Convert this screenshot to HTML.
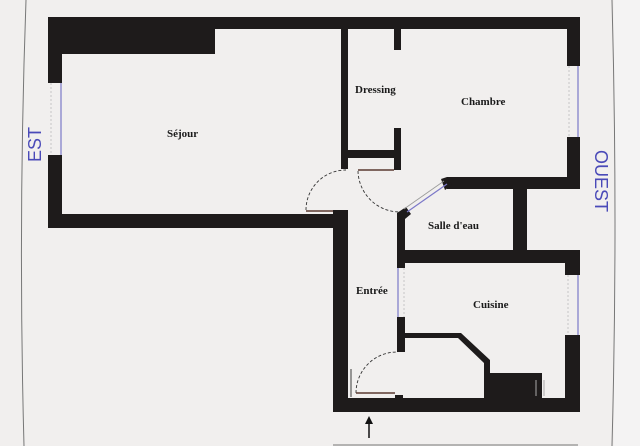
<!DOCTYPE html>
<html><head><meta charset="utf-8"><style>
html,body{margin:0;padding:0;background:#f1efee;}
svg{display:block}
text{font-family:"Liberation Serif",serif;font-weight:bold;font-size:11px;fill:#1a1a1a}
.h{font-family:"Liberation Sans",sans-serif;font-weight:normal;fill:#4a4ab8;font-size:18px}
</style></head><body>
<svg width="640" height="446" viewBox="0 0 640 446" xmlns="http://www.w3.org/2000/svg">
<rect width="640" height="446" fill="#f1efee"/>
<rect x="614" y="0" width="26" height="446" fill="#f4f3f3"/>
<path d="M26 0 Q18 223 24 446" stroke="#777" stroke-width="1" fill="none"/>
<path d="M612 0 Q618 223 612 446" stroke="#777" stroke-width="1" fill="none"/>
<g fill="#1e1b1b">
<rect x="48" y="17" width="532" height="12"/>
<rect x="48" y="17" width="167" height="37"/>
<rect x="48" y="17" width="14" height="66"/>
<rect x="48" y="155" width="14" height="73"/>
<rect x="48" y="214" width="300" height="14"/>
<rect x="341" y="17" width="7" height="152"/>
<rect x="333" y="210" width="15" height="202"/>
<rect x="394" y="17" width="7" height="33"/>
<rect x="394" y="128" width="7" height="42"/>
<rect x="348" y="150" width="53" height="8"/>
<rect x="567" y="17" width="13" height="49"/>
<rect x="567" y="137" width="13" height="52"/>
<rect x="447" y="177" width="133" height="12"/>
<polygon points="441,179 447,177 452,185 445,190"/>
<polygon points="397,213 406,207 411,214 405,219"/>
<rect x="397" y="213" width="8" height="55"/>
<rect x="513" y="177" width="14" height="80"/>
<rect x="397" y="250" width="183" height="13"/>
<rect x="565" y="250" width="15" height="25"/>
<rect x="565" y="335" width="15" height="77"/>
<rect x="397" y="317" width="8" height="35"/>
<rect x="395" y="395" width="8" height="12"/>
<polygon points="397,333 461,333 490,360 490,398 484,398 484,363 458,338 397,338"/>
<rect x="490" y="373" width="52" height="26"/>
<rect x="333" y="398" width="247" height="14"/>
</g>
<g stroke="#7c78c8" stroke-width="1.2" fill="none">
<line x1="61" y1="83" x2="61" y2="155"/>
<line x1="578" y1="66" x2="578" y2="137"/>
<line x1="578" y1="275" x2="578" y2="335"/>
<line x1="398" y1="268" x2="398" y2="317"/>
<line x1="407" y1="212" x2="447" y2="184"/>
</g>
<g stroke="#999" stroke-width="0.8" fill="none">
<line x1="404" y1="209" x2="444" y2="181"/>
</g>
<g stroke="#bbb" stroke-width="0.8" fill="none" stroke-dasharray="2,2">
<line x1="51" y1="83" x2="51" y2="155"/>
<line x1="569" y1="66" x2="569" y2="137"/>
<line x1="568" y1="275" x2="568" y2="335"/>
<line x1="404" y1="268" x2="404" y2="317"/>
</g>
<line x1="544" y1="380" x2="544" y2="396" stroke="#aaa"/>
<line x1="536" y1="380" x2="536" y2="396" stroke="#aaa"/>
<g fill="none" stroke="#333" stroke-width="0.9">
<path d="M306 210 A40 40 0 0 1 346 170" stroke-dasharray="3,2"/>
<line x1="306" y1="211" x2="333" y2="211" stroke="#5a3a30" stroke-width="1.5"/>
<path d="M358 171 A42 42 0 0 0 400 212" stroke-dasharray="3,2"/>
<line x1="358" y1="170" x2="394" y2="170" stroke="#5a3a30" stroke-width="1.5"/>
<path d="M356 393 A41 41 0 0 1 397 352" stroke-dasharray="3,2"/>
<line x1="356" y1="393" x2="395" y2="393" stroke="#5a3a30" stroke-width="1.5"/>
<line x1="351" y1="369" x2="351" y2="397" stroke="#777" stroke-width="1.5"/>
</g>
<line x1="369" y1="421" x2="369" y2="438" stroke="#111" stroke-width="1.5"/>
<polygon points="369,416 365,424 373,424" fill="#111"/>
<line x1="333" y1="445" x2="578" y2="445" stroke="#777"/>
<text x="167" y="137">Séjour</text>
<text x="355" y="93">Dressing</text>
<text x="461" y="105">Chambre</text>
<text x="428" y="229">Salle d'eau</text>
<text x="356" y="294">Entrée</text>
<text x="473" y="308">Cuisine</text>
<text class="h" transform="translate(41,162) rotate(-90)">EST</text>
<text class="h" transform="translate(595,150) rotate(90)">OUEST</text>
</svg>
</body></html>
